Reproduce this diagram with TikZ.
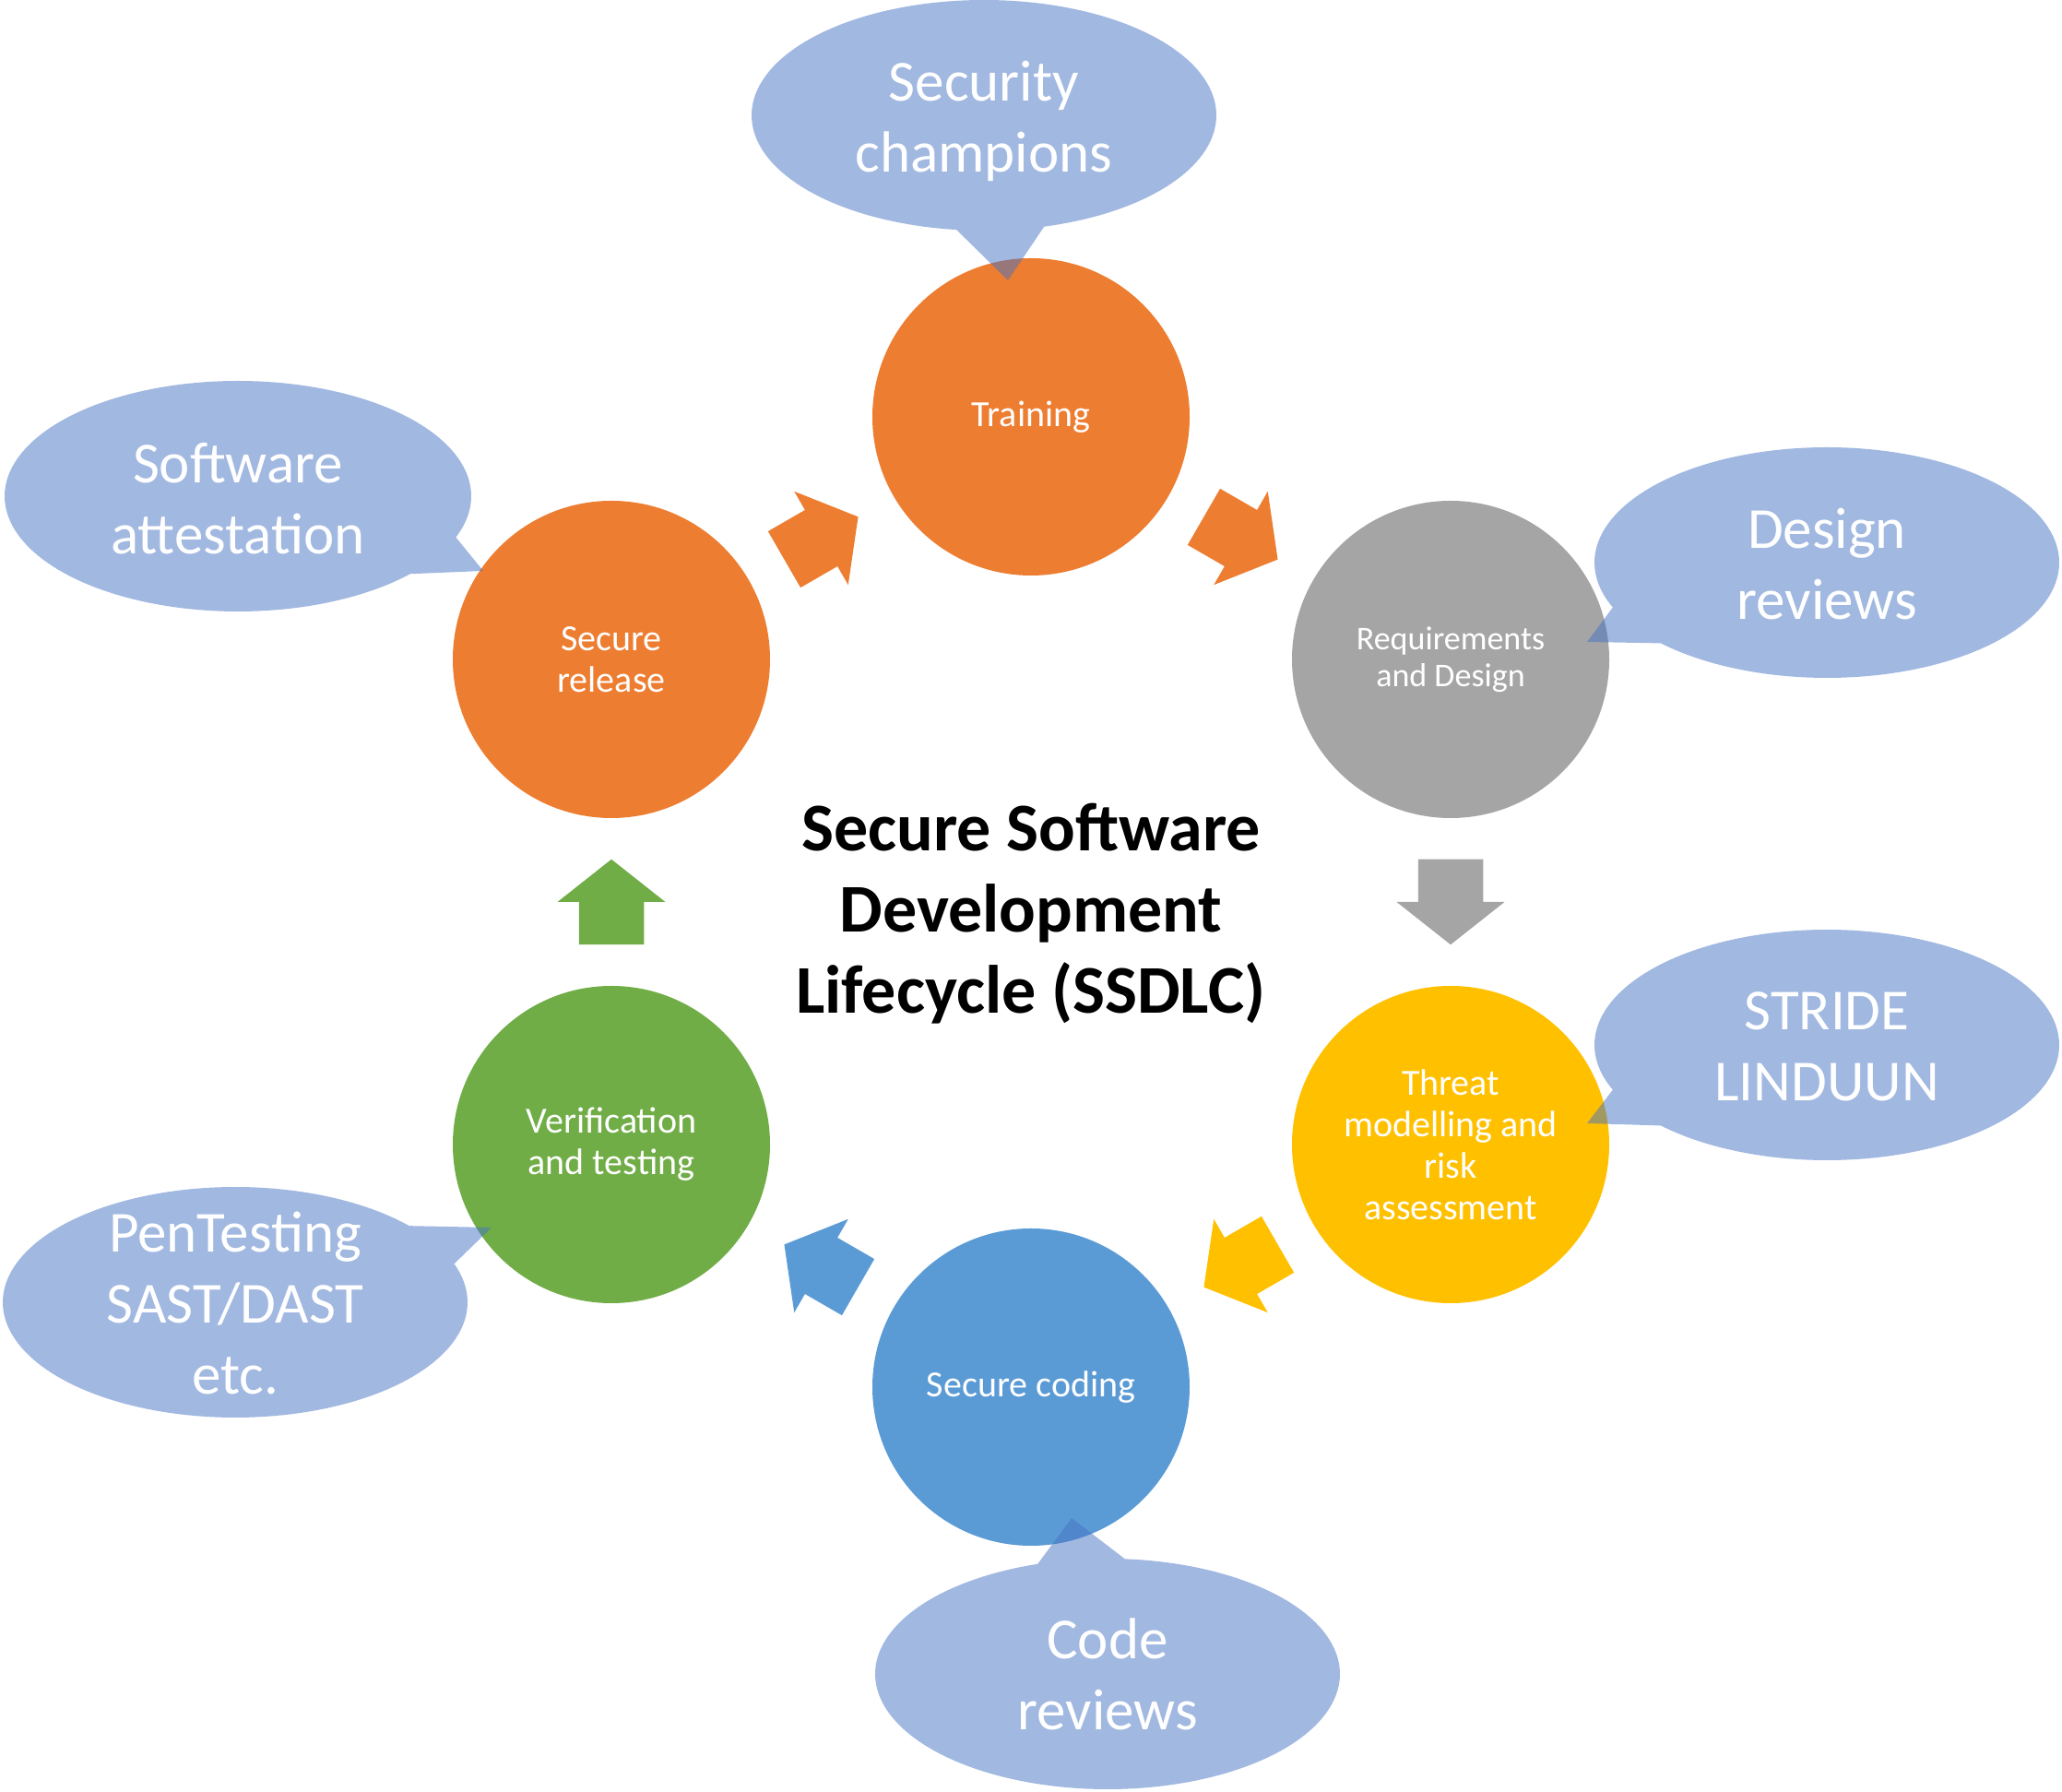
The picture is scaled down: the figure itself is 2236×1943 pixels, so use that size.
\documentclass[tikz,border=0pt]{standalone}
\usepackage{fontspec}
\setmainfont{Carlito}
\usetikzlibrary{calc}
\definecolor{corange}{HTML}{ED7D31}
\definecolor{cgray}{HTML}{A5A5A5}
\definecolor{cyellow}{HTML}{FFC000}
\definecolor{cblue}{HTML}{5B9BD5}
\definecolor{cgreen}{HTML}{70AD47}
\definecolor{ccall}{HTML}{4472C4}
% callout: cx, cy, rx, ry, t-start, t-end, tip x, tip y
\newcommand\mycallout[8]{%
  \fill[callfill] plot[domain=#5:#6, samples=160, variable=\t]
     ({#1+#3*cos(\t)},{#2+#4*sin(\t)}) -- (#7,#8) -- cycle;}
% block arrow: colour, from node, to node, angle
\newcommand\myblockarrow[4]{%
  \fill[#1, shift={($(#2)!0.5!(#3)$)}, rotate=#4]
     (-46.25,-35.25) -- (0,-35.25) -- (0,-58.5) -- (46.25,0) --
     (0,58.5) -- (0,35.25) -- (-46.25,35.25) -- cycle;}
\begin{document}
\begin{tikzpicture}[x=1pt,y=1pt,
  phase/.style={circle, minimum size=344pt, inner sep=0pt, text=white,
    align=center, font=\fontsize{40}{45}\selectfont},
  callfill/.style={fill=ccall, fill opacity=0.5},
  calltext/.style={text=white, align=center, font=\fontsize{63}{77}\selectfont},
  title/.style={text=black, align=center, font=\fontsize{74}{88}\selectfont\bfseries}]
\useasboundingbox (0,0) rectangle (2236,1943);

% phases
\node[phase, fill=corange] (training) at (1118,1491) {Training};
\node[phase, fill=cgray, font=\fontsize{36}{40}\selectfont] (req) at (1573,1228) {Requirements\\and Design};
\node[phase, fill=cyellow] (threat) at (1573,702) {Threat\\modelling and\\risk\\assessment};
\node[phase, fill=cblue] (coding) at (1118,439) {Secure coding};
\node[phase, fill=cgreen] (verif) at (663,702) {Verification\\and testing};
\node[phase, fill=corange] (release) at (663,1228) {Secure\\release};

% arrows
\myblockarrow{corange}{release}{training}{30}
\myblockarrow{corange}{training}{req}{-30}
\myblockarrow{cgray}{req}{threat}{-90}
\myblockarrow{cyellow}{threat}{coding}{-150}
\myblockarrow{cblue}{coding}{verif}{150}
\myblockarrow{cgreen}{verif}{release}{90}

% title
\node[title] (ttl) at (1118,952) {Secure Software\\Development\\Lifecycle (SSDLC)};

% callouts
\mycallout{1067}{1818}{252}{125}{285}{623.2}{1093}{1639}
\mycallout{258}{1405}{253}{125}{-20.9}{317.6}{524}{1324}
\mycallout{1981}{1333}{252}{125}{224.4}{562.9}{1721}{1247}
\mycallout{1981}{810}{252}{125}{224.4}{562.9}{1721}{725}
\mycallout{255}{531}{252}{125}{41.5}{379.5}{533}{612}
\mycallout{1201}{128}{252}{125}{107.5}{445.7}{1162}{297}

\node[calltext] (c1) at (1067,1812) {Security\\champions};
\node[calltext] (c2) at (258,1402) {Software\\attestation};
\node[calltext] (c3) at (1981,1331) {Design\\reviews};
\node[calltext] (c4) at (1981,808) {STRIDE\\LINDUUN};
\node[calltext] (c5) at (255,530) {PenTesting\\SAST/DAST\\etc.};
\node[calltext] (c6) at (1201,128) {Code\\reviews};
\end{tikzpicture}
\end{document}
